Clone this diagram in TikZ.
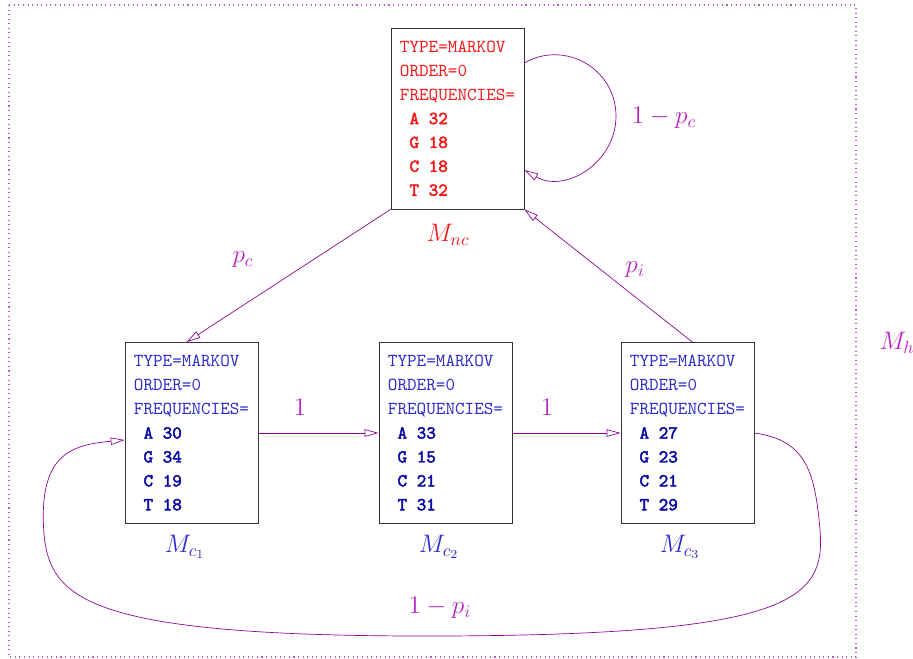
\documentclass[tikz,border=0pt]{standalone}
\usepackage{fontspec}
\usetikzlibrary{arrows.meta,positioning}
\setmonofont{Latin Modern Mono}[BoldFont=Latin Modern Mono,BoldFeatures={FakeBold=2.5}]
\definecolor{ncred}{RGB}{245,25,25}
\definecolor{cblue}{RGB}{45,45,205}
\definecolor{cbold}{RGB}{10,10,165}
\definecolor{edgecol}{RGB}{140,10,150}
\definecolor{labcol}{RGB}{185,40,195}
\definecolor{framecol}{RGB}{190,90,200}
\newcommand{\freqs}[5]{TYPE=MARKOV\\ORDER=0\\FREQUENCIES=\\%
\textbf{\color{#1}~A #2}\\\textbf{\color{#1}~G #3}\\\textbf{\color{#1}~C #4}\\\textbf{\color{#1}~T #5}}
\tikzset{
model/.style={draw=black!80,fill=white,minimum width=2.66cm,minimum height=3.62cm,
  align=left,inner sep=0pt,font=\ttfamily\fontsize{10.4}{13.6}\selectfont},
edge/.style={draw=edgecol,-{Triangle[open,length=2.8mm,width=1.5mm]}},
lab/.style={text=labcol,font=\fontsize{14}{16}\selectfont},
mname/.style={font=\fontsize{14}{16}\selectfont},
}
\begin{document}
\begin{tikzpicture}[x=0.02cm,y=-0.02cm]
  \useasboundingbox (0,0) rectangle (913,659);
  \draw[dotted,framecol,line width=0.6pt] (9,5) rectangle (856,657);

  \node[model,text=ncred] (nc) at (457.5,118.5) {\freqs{ncred}{32}{18}{18}{32}};
  \node[model,text=cblue] (c1) at (191.5,433) {\freqs{cbold}{30}{34}{19}{18}};
  \node[model,text=cblue] (c2) at (445.5,433) {\freqs{cbold}{33}{15}{21}{31}};
  \node[model,text=cblue] (c3) at (687.5,433) {\freqs{cbold}{27}{23}{21}{29}};

  \node[mname,text=ncred] (mnc) at (448,235) {$M_{nc}$};
  \node[mname,text=cblue] (mc1) at (185,547) {$M_{c_1}$};
  \node[mname,text=cblue] (mc2) at (439,547) {$M_{c_2}$};
  \node[mname,text=cblue] (mc3) at (680,547) {$M_{c_3}$};
  \node[lab] (mh) at (897,343) {$M_h$};

  \draw[edge] (nc.south west) -- ([xshift=-0.1cm]c1.north);
  \draw[edge] ([xshift=0.1cm]c3.north) -- (nc.south east);
  \draw[edge] (c1.east) -- (c2.west);
  \draw[edge] (c2.east) -- (c3.west);
  \draw[edge] ([yshift=1.11cm]nc.east) .. controls (565,39.5) and (616,69) .. (616,116)
    .. controls (616,163) and (565,193.5) .. ([yshift=-1.03cm]nc.east);
  \draw[edge] (c3.east) .. controls (805,440) and (815,470) .. (820,530)
    .. controls (826,600) and (790,635) .. (440,636)
    .. controls (90,637) and (50,600) .. (44,534)
    .. controls (38,455) and (70,445) .. ([yshift=-0.14cm]c1.west);

  \node[lab] (lpc) at (243,260) {$p_c$};
  \node[lab] (lpi) at (635,270) {$p_i$};
  \node[lab] (lone1) at (300,407) {$1$};
  \node[lab] (lone2) at (547,407) {$1$};
  \node[lab] (lloop) at (664,118) {$1-p_c$};
  \node[lab] (lback) at (440,608) {$1-p_i$};
\end{tikzpicture}
\end{document}
